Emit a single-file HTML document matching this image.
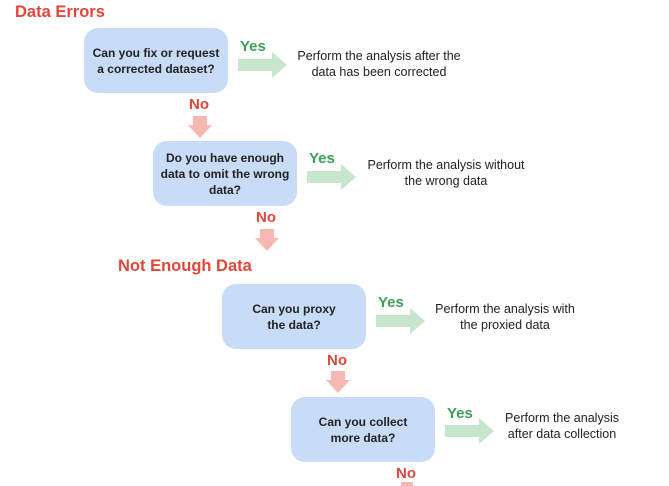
<!DOCTYPE html><html><head><style>
body{margin:0;width:669px;height:486px;background:#fff;position:relative;overflow:hidden;font-family:"Liberation Sans",sans-serif}
.t{position:absolute;color:#e2463b;font-weight:bold;font-size:16.5px}
.b{position:absolute;width:144px;height:65px;background:#c8dbf7;border-radius:14px;display:flex;align-items:center;justify-content:center;text-align:center;font-weight:bold;font-size:12px;line-height:16px;color:#222}
.y{position:absolute;color:#3c9e57;font-weight:bold;font-size:15px}
.n{position:absolute;color:#e2463b;font-weight:bold;font-size:15px}
.r{position:absolute;font-size:12.5px;line-height:16px;text-align:center;color:#222;width:190px}
svg{position:absolute;left:0;top:0}
</style></head><body>
<div class="t" style="left:15px;top:3px">Data Errors</div>
<div class="t" style="left:118px;top:257px">Not Enough Data</div>
<div class="b" style="left:84px;top:28px">Can you fix or request<br>a corrected dataset?</div>
<div class="b" style="left:153px;top:141px">Do you have enough<br>data to omit the wrong<br>data?</div>
<div class="b" style="left:222px;top:284px">Can you proxy<br>the data?</div>
<div class="b" style="left:291px;top:397px">Can you collect<br>more data?</div>
<div class="y" style="left:240px;top:38px">Yes</div>
<div class="y" style="left:309px;top:150px">Yes</div>
<div class="y" style="left:378px;top:294px">Yes</div>
<div class="y" style="left:447px;top:405px">Yes</div>
<div class="n" style="left:189px;top:96px">No</div>
<div class="n" style="left:256px;top:209px">No</div>
<div class="n" style="left:327px;top:352px">No</div>
<div class="n" style="left:396px;top:465px">No</div>
<div class="r" style="left:284px;top:48px">Perform the analysis after the<br>data has been corrected</div>
<div class="r" style="left:351px;top:157px">Perform the analysis without<br>the wrong data</div>
<div class="r" style="left:410px;top:301px">Perform the analysis with<br>the proxied data</div>
<div class="r" style="left:467px;top:410px">Perform the analysis<br>after data collection</div>
<svg width="669" height="486">
<g fill="#c6e6cd">
<polygon points="238,59 272,59 272,52 287,65 272,78 272,71 238,71"/>
<polygon points="307,171 341,171 341,164 356,177 341,190 341,183 307,183"/>
<polygon points="376,315 410,315 410,308 425,321 410,334 410,327 376,327"/>
<polygon points="445,425 479,425 479,418 494,431 479,444 479,437 445,437"/>
</g>
<g fill="#f6b9b1">
<polygon points="193,116 207,116 207,125 212,125 200,138 188,125 193,125"/>
<polygon points="260,229 274,229 274,238 279,238 267,251 255,238 260,238"/>
<polygon points="331,371 345,371 345,380 350,380 338,393 326,380 331,380"/>
<rect x="401" y="482" width="12" height="4"/>
</g>
</svg>
</body></html>
